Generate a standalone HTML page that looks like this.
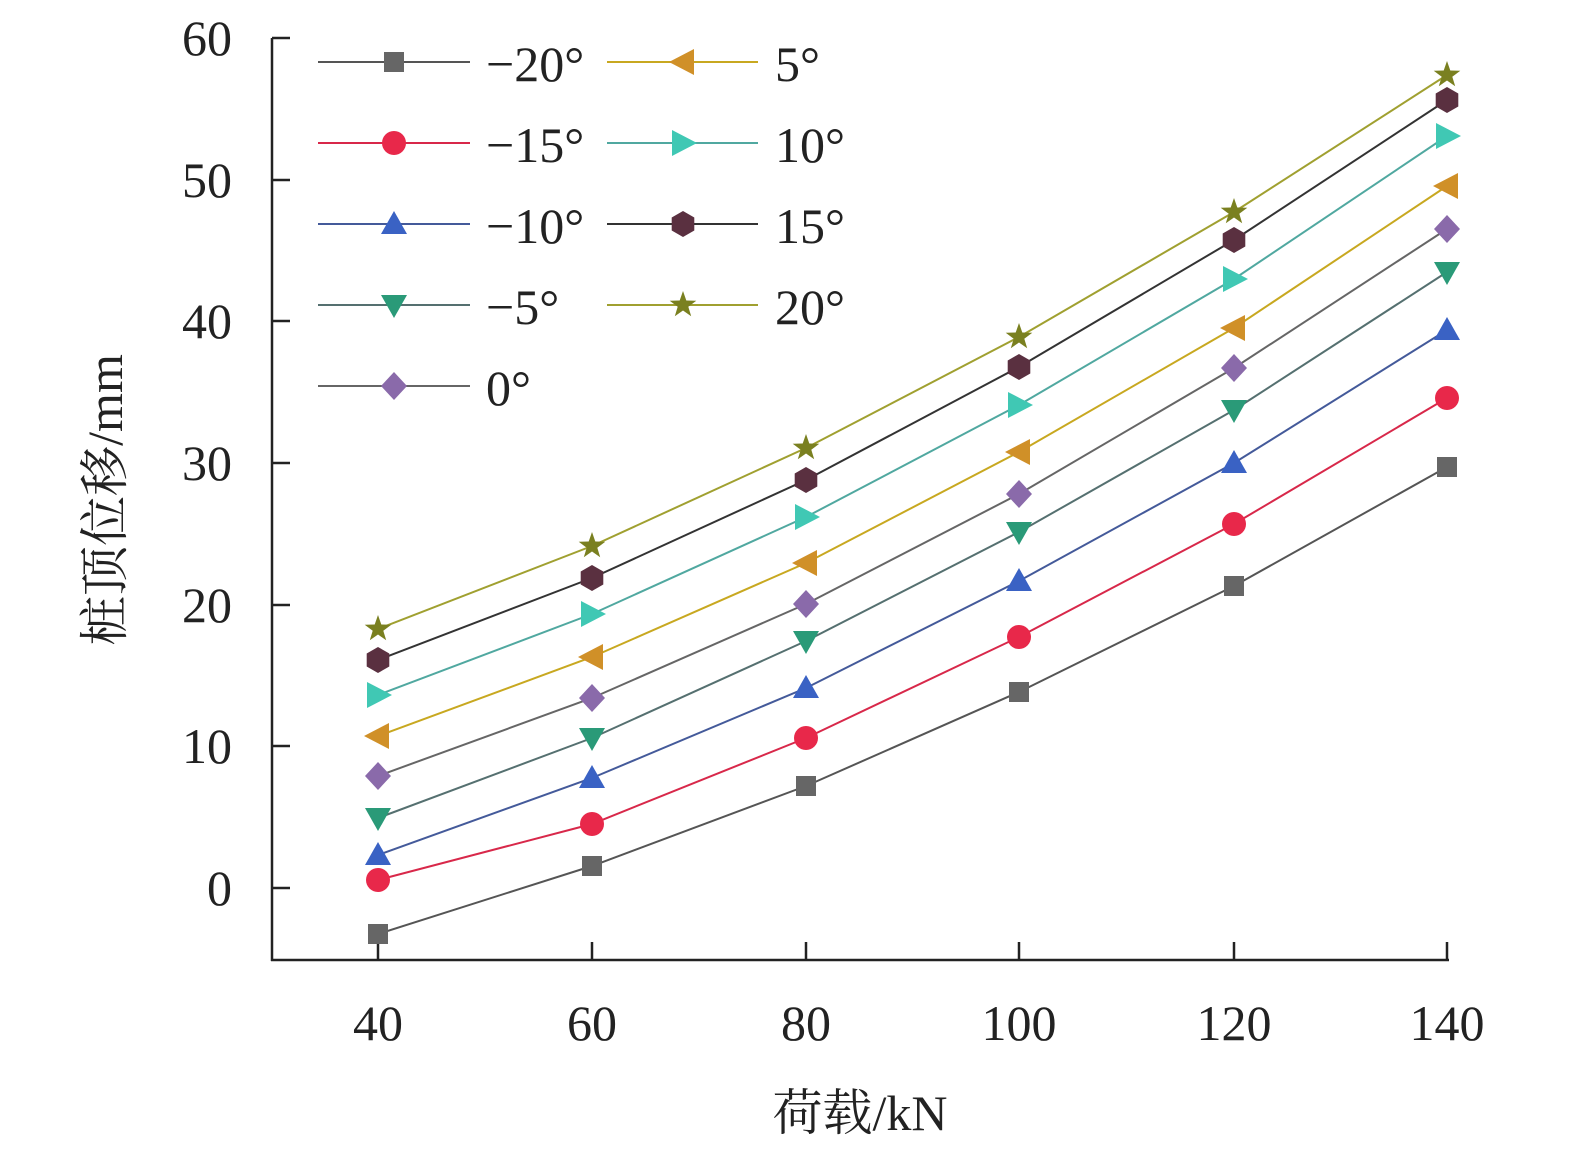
<!DOCTYPE html>
<html><head><meta charset="utf-8"><style>
html,body{margin:0;padding:0;background:#fff;}
svg text{font-family:"Liberation Serif","Noto Serif CJK SC",serif;fill:#222;}
</style></head><body>
<svg width="1575" height="1161" xmlns="http://www.w3.org/2000/svg">
<defs>
<g id="sq"><rect x="-10" y="-10" width="20" height="20"/></g>
<g id="ci"><circle r="12"/></g>
<g id="tu"><polygon points="0,-13 13,10 -13,10"/></g>
<g id="td"><polygon points="0,13 13,-10 -13,-10"/></g>
<g id="di"><polygon points="0,-14 13,0 0,14 -13,0"/></g>
<g id="tl"><polygon points="-14,0 11,-13 11,13"/></g>
<g id="tr"><polygon points="14,0 -11,-13 -11,13"/></g>
<g id="hx"><polygon points="0,-13 11.3,-6.5 11.3,6.5 0,13 -11.3,6.5 -11.3,-6.5"/></g>
<g id="st"><polygon points="0,-14 3.3,-4.5 13.3,-4.3 5.3,1.7 8.2,11.3 0,5.5 -8.2,11.3 -5.3,1.7 -13.3,-4.3 -3.3,-4.5"/></g>
</defs>
<g stroke="#222" stroke-width="2.5" fill="none">
<line x1="272" y1="38" x2="272" y2="961"/>
<line x1="271" y1="960" x2="1449" y2="960"/>
<line x1="272" y1="38" x2="290" y2="38"/><line x1="272" y1="180" x2="290" y2="180"/>
<line x1="272" y1="321" x2="290" y2="321"/><line x1="272" y1="463" x2="290" y2="463"/>
<line x1="272" y1="605" x2="290" y2="605"/><line x1="272" y1="746" x2="290" y2="746"/>
<line x1="272" y1="888" x2="290" y2="888"/>
<line x1="378" y1="960" x2="378" y2="942"/><line x1="592" y1="960" x2="592" y2="942"/>
<line x1="806" y1="960" x2="806" y2="942"/><line x1="1019" y1="960" x2="1019" y2="942"/>
<line x1="1234" y1="960" x2="1234" y2="942"/><line x1="1447" y1="960" x2="1447" y2="942"/>
</g>
<g font-size="50" text-anchor="end">
<text x="232" y="55">60</text><text x="232" y="197">50</text><text x="232" y="338">40</text>
<text x="232" y="480">30</text><text x="232" y="622">20</text><text x="232" y="763">10</text>
<text x="232" y="905">0</text>
</g>
<g font-size="50" text-anchor="middle">
<text x="378" y="1040">40</text><text x="592" y="1040">60</text><text x="806" y="1040">80</text>
<text x="1019" y="1040">100</text><text x="1234" y="1040">120</text><text x="1447" y="1040">140</text>
<text x="860" y="1130" font-size="50">荷载/kN</text>
<text transform="translate(122,500) rotate(-90)" font-size="50">桩顶位移/mm</text>
</g>
<g stroke-width="2" fill="none">
<polyline stroke="#555" points="378,934 592,866 806,786 1019,692 1234,586 1447,467"/>
<polyline stroke="#d8284a" points="378,880 592,824 806,738 1019,637 1234,524 1447,398"/>
<polyline stroke="#445a9a" points="378,855 592,778 806,688 1019,581 1234,463 1447,330"/>
<polyline stroke="#557070" points="378,818 592,738 806,641 1019,532 1234,410 1447,272"/>
<polyline stroke="#666" points="378,776 592,698 806,604 1019,494 1234,368 1447,229"/>
<polyline stroke="#c8a820" points="378,736 592,657 806,563 1019,452 1234,328 1447,186"/>
<polyline stroke="#50a8a0" points="378,695 592,614 806,517 1019,405 1234,279 1447,136"/>
<polyline stroke="#333" points="378,660 592,578 806,480 1019,367 1234,240 1447,100"/>
<polyline stroke="#a0a030" points="378,629 592,546 806,448 1019,337 1234,212 1447,75"/>
</g>
<g fill="#666"><use href="#sq" x="378" y="934"/><use href="#sq" x="592" y="866"/><use href="#sq" x="806" y="786"/><use href="#sq" x="1019" y="692"/><use href="#sq" x="1234" y="586"/><use href="#sq" x="1447" y="467"/></g>
<g fill="#e8284a"><use href="#ci" x="378" y="880"/><use href="#ci" x="592" y="824"/><use href="#ci" x="806" y="738"/><use href="#ci" x="1019" y="637"/><use href="#ci" x="1234" y="524"/><use href="#ci" x="1447" y="398"/></g>
<g fill="#3a62c4"><use href="#tu" x="378" y="855"/><use href="#tu" x="592" y="778"/><use href="#tu" x="806" y="688"/><use href="#tu" x="1019" y="581"/><use href="#tu" x="1234" y="463"/><use href="#tu" x="1447" y="330"/></g>
<g fill="#2a9a78"><use href="#td" x="378" y="818"/><use href="#td" x="592" y="738"/><use href="#td" x="806" y="641"/><use href="#td" x="1019" y="532"/><use href="#td" x="1234" y="410"/><use href="#td" x="1447" y="272"/></g>
<g fill="#8a6aaa"><use href="#di" x="378" y="776"/><use href="#di" x="592" y="698"/><use href="#di" x="806" y="604"/><use href="#di" x="1019" y="494"/><use href="#di" x="1234" y="368"/><use href="#di" x="1447" y="229"/></g>
<g fill="#d09028"><use href="#tl" x="378" y="736"/><use href="#tl" x="592" y="657"/><use href="#tl" x="806" y="563"/><use href="#tl" x="1019" y="452"/><use href="#tl" x="1234" y="328"/><use href="#tl" x="1447" y="186"/></g>
<g fill="#40c8b4"><use href="#tr" x="378" y="695"/><use href="#tr" x="592" y="614"/><use href="#tr" x="806" y="517"/><use href="#tr" x="1019" y="405"/><use href="#tr" x="1234" y="279"/><use href="#tr" x="1447" y="136"/></g>
<g fill="#5a3040"><use href="#hx" x="378" y="660"/><use href="#hx" x="592" y="578"/><use href="#hx" x="806" y="480"/><use href="#hx" x="1019" y="367"/><use href="#hx" x="1234" y="240"/><use href="#hx" x="1447" y="100"/></g>
<g fill="#7a8020"><use href="#st" x="378" y="629"/><use href="#st" x="592" y="546"/><use href="#st" x="806" y="448"/><use href="#st" x="1019" y="337"/><use href="#st" x="1234" y="212"/><use href="#st" x="1447" y="75"/></g>
<g stroke-width="2">
<line x1="318" y1="62" x2="470" y2="62" stroke="#555"/>
<line x1="318" y1="143" x2="470" y2="143" stroke="#d8284a"/>
<line x1="318" y1="224" x2="470" y2="224" stroke="#445a9a"/>
<line x1="318" y1="305" x2="470" y2="305" stroke="#557070"/>
<line x1="318" y1="386" x2="470" y2="386" stroke="#666"/>
<line x1="607" y1="62" x2="758" y2="62" stroke="#c8a820"/>
<line x1="607" y1="143" x2="758" y2="143" stroke="#50a8a0"/>
<line x1="607" y1="224" x2="758" y2="224" stroke="#333"/>
<line x1="607" y1="305" x2="758" y2="305" stroke="#a0a030"/>
</g>
<use href="#sq" x="394" y="62" fill="#666"/>
<use href="#ci" x="394" y="143" fill="#e8284a"/>
<use href="#tu" x="394" y="224" fill="#3a62c4"/>
<use href="#td" x="394" y="305" fill="#2a9a78"/>
<use href="#di" x="394" y="386" fill="#8a6aaa"/>
<use href="#tl" x="683" y="62" fill="#d09028"/>
<use href="#tr" x="683" y="143" fill="#40c8b4"/>
<use href="#hx" x="683" y="224" fill="#5a3040"/>
<use href="#st" x="683" y="305" fill="#7a8020"/>
<g font-size="50">
<text x="486" y="81">−20°</text><text x="486" y="162">−15°</text><text x="486" y="243">−10°</text>
<text x="486" y="324">−5°</text><text x="486" y="405">0°</text>
<text x="775" y="81">5°</text><text x="775" y="162">10°</text><text x="775" y="243">15°</text><text x="775" y="324">20°</text>
</g>
</svg>
</body></html>
